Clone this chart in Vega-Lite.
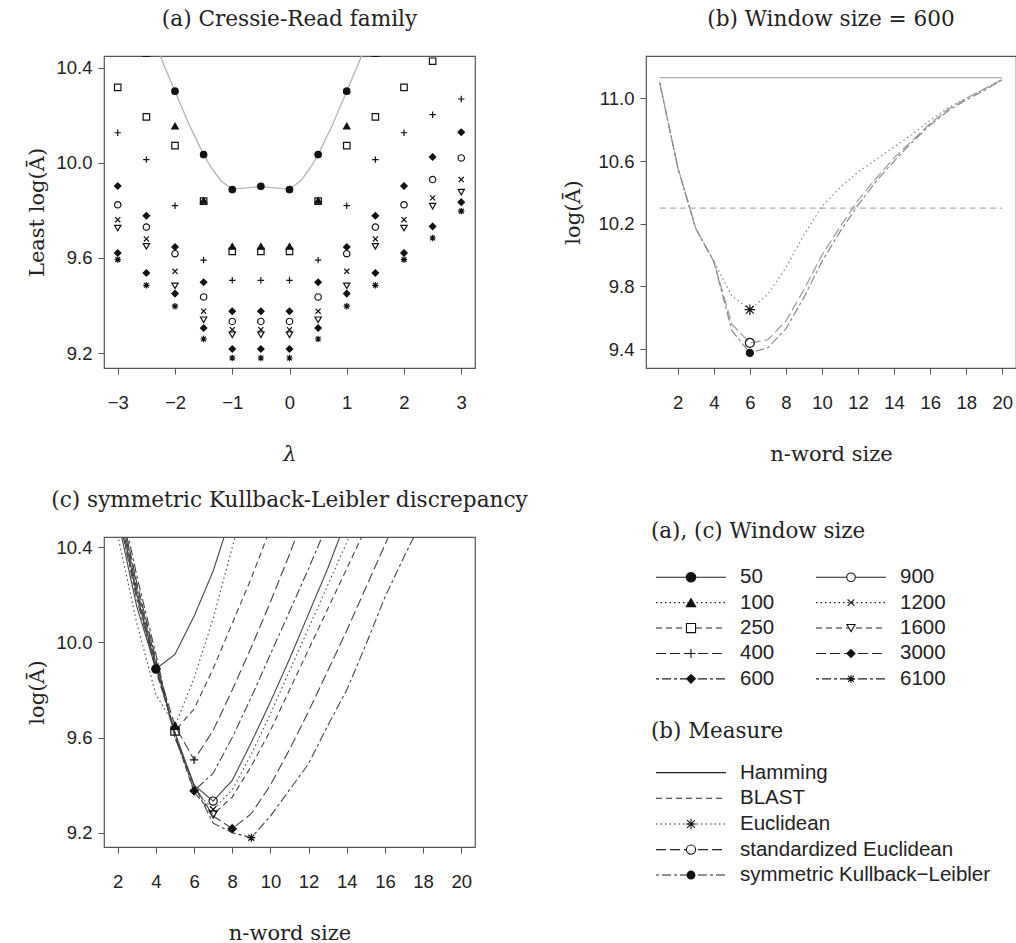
{
  "$schema": "https://vega.github.io/schema/vega-lite/v6.json",
  "padding": {"left": 26, "top": 8, "right": 0, "bottom": 0},
  "background": "white",
  "config": {
    "view": {"stroke": "#555", "strokeWidth": 1.2},
    "axis": {"domain": false, "grid": false, "ticks": true, "tickColor": "#555", "tickSize": 6, "tickWidth": 1, "labelFont": "Liberation Sans", "labelFontSize": 18.5, "labelColor": "#222", "labelOverlap": false, "labelFlush": false, "titleFont": "DejaVu Serif", "titleFontSize": 21, "titleFontWeight": "normal", "titleColor": "#222"},
    "axisY": {"titlePadding": 8, "labelPadding": 6},
    "axisX": {"titlePadding": 32, "labelPadding": 19},
    "title": {"font": "DejaVu Serif", "fontSize": 21.6, "fontWeight": "normal", "color": "#222", "anchor": "middle", "frame": "group", "baseline": "alphabetic", "offset": 25},
    "legend": {"disable": true}
  },
  "datasets": {
    "cr": [
      {"lambda":-2,"window":"50","v":10.302},{"lambda":-1.5,"window":"50","v":10.035},{"lambda":-1,"window":"50","v":9.888},{"lambda":-0.5,"window":"50","v":9.902},{"lambda":0,"window":"50","v":9.888},{"lambda":0.5,"window":"50","v":10.035},{"lambda":1,"window":"50","v":10.302},
      {"lambda":-2.5,"window":"100","v":10.46},{"lambda":-2,"window":"100","v":10.155},{"lambda":-1.5,"window":"100","v":9.842},{"lambda":-1,"window":"100","v":9.649},{"lambda":-0.5,"window":"100","v":9.649},{"lambda":0,"window":"100","v":9.649},{"lambda":0.5,"window":"100","v":9.842},{"lambda":1,"window":"100","v":10.155},{"lambda":1.5,"window":"100","v":10.46},
      {"lambda":-3,"window":"250","v":10.318},{"lambda":-2.5,"window":"250","v":10.194},{"lambda":-2,"window":"250","v":10.073},{"lambda":-1.5,"window":"250","v":9.839},{"lambda":-1,"window":"250","v":9.628},{"lambda":-0.5,"window":"250","v":9.628},{"lambda":0,"window":"250","v":9.628},{"lambda":0.5,"window":"250","v":9.839},{"lambda":1,"window":"250","v":10.073},{"lambda":1.5,"window":"250","v":10.194},{"lambda":2,"window":"250","v":10.318},{"lambda":2.5,"window":"250","v":10.428},
      {"lambda":-3,"window":"400","v":10.127},{"lambda":-2.5,"window":"400","v":10.014},{"lambda":-2,"window":"400","v":9.82},{"lambda":-1.5,"window":"400","v":9.591},{"lambda":-1,"window":"400","v":9.506},{"lambda":-0.5,"window":"400","v":9.506},{"lambda":0,"window":"400","v":9.506},{"lambda":0.5,"window":"400","v":9.591},{"lambda":1,"window":"400","v":9.82},{"lambda":1.5,"window":"400","v":10.014},{"lambda":2,"window":"400","v":10.127},{"lambda":2.5,"window":"400","v":10.203},{"lambda":3,"window":"400","v":10.269},
      {"lambda":-3,"window":"600","v":9.903},{"lambda":-2.5,"window":"600","v":9.778},{"lambda":-2,"window":"600","v":9.646},{"lambda":-1.5,"window":"600","v":9.498},{"lambda":-1,"window":"600","v":9.376},{"lambda":-0.5,"window":"600","v":9.376},{"lambda":0,"window":"600","v":9.376},{"lambda":0.5,"window":"600","v":9.498},{"lambda":1,"window":"600","v":9.646},{"lambda":1.5,"window":"600","v":9.778},{"lambda":2,"window":"600","v":9.903},{"lambda":2.5,"window":"600","v":10.025},{"lambda":3,"window":"600","v":10.129},
      {"lambda":-3,"window":"900","v":9.824},{"lambda":-2.5,"window":"900","v":9.73},{"lambda":-2,"window":"900","v":9.618},{"lambda":-1.5,"window":"900","v":9.436},{"lambda":-1,"window":"900","v":9.333},{"lambda":-0.5,"window":"900","v":9.333},{"lambda":0,"window":"900","v":9.333},{"lambda":0.5,"window":"900","v":9.436},{"lambda":1,"window":"900","v":9.618},{"lambda":1.5,"window":"900","v":9.73},{"lambda":2,"window":"900","v":9.824},{"lambda":2.5,"window":"900","v":9.93},{"lambda":3,"window":"900","v":10.021},
      {"lambda":-3,"window":"1200","v":9.761},{"lambda":-2.5,"window":"1200","v":9.68},{"lambda":-2,"window":"1200","v":9.544},{"lambda":-1.5,"window":"1200","v":9.376},{"lambda":-1,"window":"1200","v":9.298},{"lambda":-0.5,"window":"1200","v":9.298},{"lambda":0,"window":"1200","v":9.298},{"lambda":0.5,"window":"1200","v":9.376},{"lambda":1,"window":"1200","v":9.544},{"lambda":1.5,"window":"1200","v":9.68},{"lambda":2,"window":"1200","v":9.761},{"lambda":2.5,"window":"1200","v":9.853},{"lambda":3,"window":"1200","v":9.93},
      {"lambda":-3,"window":"1600","v":9.726},{"lambda":-2.5,"window":"1600","v":9.649},{"lambda":-2,"window":"1600","v":9.483},{"lambda":-1.5,"window":"1600","v":9.34},{"lambda":-1,"window":"1600","v":9.277},{"lambda":-0.5,"window":"1600","v":9.277},{"lambda":0,"window":"1600","v":9.277},{"lambda":0.5,"window":"1600","v":9.34},{"lambda":1,"window":"1600","v":9.483},{"lambda":1.5,"window":"1600","v":9.649},{"lambda":2,"window":"1600","v":9.726},{"lambda":2.5,"window":"1600","v":9.818},{"lambda":3,"window":"1600","v":9.877},
      {"lambda":-3,"window":"3000","v":9.621},{"lambda":-2.5,"window":"3000","v":9.537},{"lambda":-2,"window":"3000","v":9.45},{"lambda":-1.5,"window":"3000","v":9.305},{"lambda":-1,"window":"3000","v":9.217},{"lambda":-0.5,"window":"3000","v":9.217},{"lambda":0,"window":"3000","v":9.217},{"lambda":0.5,"window":"3000","v":9.305},{"lambda":1,"window":"3000","v":9.45},{"lambda":1.5,"window":"3000","v":9.537},{"lambda":2,"window":"3000","v":9.621},{"lambda":2.5,"window":"3000","v":9.733},{"lambda":3,"window":"3000","v":9.835},
      {"lambda":-3,"window":"6100","v":9.593},{"lambda":-2.5,"window":"6100","v":9.485},{"lambda":-2,"window":"6100","v":9.397},{"lambda":-1.5,"window":"6100","v":9.259},{"lambda":-1,"window":"6100","v":9.179},{"lambda":-0.5,"window":"6100","v":9.179},{"lambda":0,"window":"6100","v":9.179},{"lambda":0.5,"window":"6100","v":9.259},{"lambda":1,"window":"6100","v":9.397},{"lambda":1.5,"window":"6100","v":9.485},{"lambda":2,"window":"6100","v":9.593},{"lambda":2.5,"window":"6100","v":9.684},{"lambda":3,"window":"6100","v":9.797}
    ],
    "crLine": [
      {"lambda":-2.5,"v":10.6},{"lambda":-2.26,"v":10.45},{"lambda":-2,"v":10.302},{"lambda":-1.75,"v":10.16},{"lambda":-1.5,"v":10.035},{"lambda":-1.38,"v":9.985},{"lambda":-1.2,"v":9.925},{"lambda":-1,"v":9.89},{"lambda":-0.5,"v":9.9},{"lambda":0,"v":9.89},{"lambda":0.2,"v":9.925},{"lambda":0.38,"v":9.985},{"lambda":0.5,"v":10.035},{"lambda":0.75,"v":10.16},{"lambda":1,"v":10.302},{"lambda":1.26,"v":10.45},{"lambda":1.5,"v":10.6}
    ],
    "bm": [
      {"n":1,"measure":"Hamming","v":11.132},{"n":2,"measure":"Hamming","v":11.132},{"n":3,"measure":"Hamming","v":11.132},{"n":4,"measure":"Hamming","v":11.132},{"n":5,"measure":"Hamming","v":11.132},{"n":6,"measure":"Hamming","v":11.132},{"n":7,"measure":"Hamming","v":11.132},{"n":8,"measure":"Hamming","v":11.132},{"n":9,"measure":"Hamming","v":11.132},{"n":10,"measure":"Hamming","v":11.132},{"n":11,"measure":"Hamming","v":11.132},{"n":12,"measure":"Hamming","v":11.132},{"n":13,"measure":"Hamming","v":11.132},{"n":14,"measure":"Hamming","v":11.132},{"n":15,"measure":"Hamming","v":11.132},{"n":16,"measure":"Hamming","v":11.132},{"n":17,"measure":"Hamming","v":11.132},{"n":18,"measure":"Hamming","v":11.132},{"n":19,"measure":"Hamming","v":11.132},{"n":20,"measure":"Hamming","v":11.132},
      {"n":1,"measure":"BLAST","v":10.3},{"n":2,"measure":"BLAST","v":10.3},{"n":3,"measure":"BLAST","v":10.3},{"n":4,"measure":"BLAST","v":10.3},{"n":5,"measure":"BLAST","v":10.3},{"n":6,"measure":"BLAST","v":10.3},{"n":7,"measure":"BLAST","v":10.3},{"n":8,"measure":"BLAST","v":10.3},{"n":9,"measure":"BLAST","v":10.3},{"n":10,"measure":"BLAST","v":10.3},{"n":11,"measure":"BLAST","v":10.3},{"n":12,"measure":"BLAST","v":10.3},{"n":13,"measure":"BLAST","v":10.3},{"n":14,"measure":"BLAST","v":10.3},{"n":15,"measure":"BLAST","v":10.3},{"n":16,"measure":"BLAST","v":10.3},{"n":17,"measure":"BLAST","v":10.3},{"n":18,"measure":"BLAST","v":10.3},{"n":19,"measure":"BLAST","v":10.3},{"n":20,"measure":"BLAST","v":10.3},
      {"n":1,"measure":"Euclidean","v":11.1},{"n":2,"measure":"Euclidean","v":10.56},{"n":3,"measure":"Euclidean","v":10.17},{"n":4,"measure":"Euclidean","v":9.96},{"n":5,"measure":"Euclidean","v":9.74},{"n":6,"measure":"Euclidean","v":9.652},{"n":7,"measure":"Euclidean","v":9.75},{"n":8,"measure":"Euclidean","v":9.92},{"n":9,"measure":"Euclidean","v":10.13},{"n":10,"measure":"Euclidean","v":10.31},{"n":11,"measure":"Euclidean","v":10.43},{"n":12,"measure":"Euclidean","v":10.53},{"n":13,"measure":"Euclidean","v":10.61},{"n":14,"measure":"Euclidean","v":10.69},{"n":15,"measure":"Euclidean","v":10.77},{"n":16,"measure":"Euclidean","v":10.86},{"n":17,"measure":"Euclidean","v":10.94},{"n":18,"measure":"Euclidean","v":11.0},{"n":19,"measure":"Euclidean","v":11.06},{"n":20,"measure":"Euclidean","v":11.12},
      {"n":1,"measure":"standardized Euclidean","v":11.1},{"n":2,"measure":"standardized Euclidean","v":10.56},{"n":3,"measure":"standardized Euclidean","v":10.17},{"n":4,"measure":"standardized Euclidean","v":9.96},{"n":5,"measure":"standardized Euclidean","v":9.56},{"n":6,"measure":"standardized Euclidean","v":9.44},{"n":7,"measure":"standardized Euclidean","v":9.46},{"n":8,"measure":"standardized Euclidean","v":9.58},{"n":9,"measure":"standardized Euclidean","v":9.78},{"n":10,"measure":"standardized Euclidean","v":10.0},{"n":11,"measure":"standardized Euclidean","v":10.18},{"n":12,"measure":"standardized Euclidean","v":10.35},{"n":13,"measure":"standardized Euclidean","v":10.49},{"n":14,"measure":"standardized Euclidean","v":10.62},{"n":15,"measure":"standardized Euclidean","v":10.73},{"n":16,"measure":"standardized Euclidean","v":10.84},{"n":17,"measure":"standardized Euclidean","v":10.93},{"n":18,"measure":"standardized Euclidean","v":11.0},{"n":19,"measure":"standardized Euclidean","v":11.06},{"n":20,"measure":"standardized Euclidean","v":11.12},
      {"n":1,"measure":"symmetric Kullback−Leibler","v":11.1},{"n":2,"measure":"symmetric Kullback−Leibler","v":10.56},{"n":3,"measure":"symmetric Kullback−Leibler","v":10.17},{"n":4,"measure":"symmetric Kullback−Leibler","v":9.96},{"n":5,"measure":"symmetric Kullback−Leibler","v":9.52},{"n":6,"measure":"symmetric Kullback−Leibler","v":9.376},{"n":7,"measure":"symmetric Kullback−Leibler","v":9.41},{"n":8,"measure":"symmetric Kullback−Leibler","v":9.53},{"n":9,"measure":"symmetric Kullback−Leibler","v":9.73},{"n":10,"measure":"symmetric Kullback−Leibler","v":9.96},{"n":11,"measure":"symmetric Kullback−Leibler","v":10.15},{"n":12,"measure":"symmetric Kullback−Leibler","v":10.32},{"n":13,"measure":"symmetric Kullback−Leibler","v":10.47},{"n":14,"measure":"symmetric Kullback−Leibler","v":10.6},{"n":15,"measure":"symmetric Kullback−Leibler","v":10.72},{"n":16,"measure":"symmetric Kullback−Leibler","v":10.83},{"n":17,"measure":"symmetric Kullback−Leibler","v":10.92},{"n":18,"measure":"symmetric Kullback−Leibler","v":10.99},{"n":19,"measure":"symmetric Kullback−Leibler","v":11.05},{"n":20,"measure":"symmetric Kullback−Leibler","v":11.12}
    ],
    "bpts": [
      {"n":6,"measure":"Euclidean","v":9.652},
      {"n":6,"measure":"standardized Euclidean","v":9.44},
      {"n":6,"measure":"symmetric Kullback−Leibler","v":9.376}
    ],
    "skl": [
      {"n":2,"window":"50","v":10.52},{"n":3,"window":"50","v":10.15},{"n":4,"window":"50","v":9.888},{"n":5,"window":"50","v":9.95},{"n":6,"window":"50","v":10.11},{"n":7,"window":"50","v":10.3},{"n":8,"window":"50","v":10.55},
      {"n":2,"window":"100","v":10.45},{"n":3,"window":"100","v":10.08},{"n":4,"window":"100","v":9.78},{"n":5,"window":"100","v":9.649},{"n":6,"window":"100","v":9.85},{"n":7,"window":"100","v":10.1},{"n":8,"window":"100","v":10.4},{"n":9,"window":"100","v":10.7},
      {"n":2,"window":"250","v":10.55},{"n":3,"window":"250","v":10.2},{"n":4,"window":"250","v":9.88},{"n":5,"window":"250","v":9.628},{"n":6,"window":"250","v":9.72},{"n":7,"window":"250","v":9.89},{"n":8,"window":"250","v":10.08},{"n":9,"window":"250","v":10.27},{"n":10,"window":"250","v":10.48},
      {"n":2,"window":"400","v":10.6},{"n":3,"window":"400","v":10.22},{"n":4,"window":"400","v":9.91},{"n":5,"window":"400","v":9.65},{"n":6,"window":"400","v":9.506},{"n":7,"window":"400","v":9.63},{"n":8,"window":"400","v":9.8},{"n":9,"window":"400","v":9.98},{"n":10,"window":"400","v":10.17},{"n":11,"window":"400","v":10.37},{"n":12,"window":"400","v":10.58},
      {"n":2,"window":"600","v":10.55},{"n":3,"window":"600","v":10.18},{"n":4,"window":"600","v":9.89},{"n":5,"window":"600","v":9.62},{"n":6,"window":"600","v":9.376},{"n":7,"window":"600","v":9.45},{"n":8,"window":"600","v":9.6},{"n":9,"window":"600","v":9.77},{"n":10,"window":"600","v":9.95},{"n":11,"window":"600","v":10.13},{"n":12,"window":"600","v":10.31},{"n":13,"window":"600","v":10.5},
      {"n":2,"window":"900","v":10.58},{"n":3,"window":"900","v":10.2},{"n":4,"window":"900","v":9.9},{"n":5,"window":"900","v":9.62},{"n":6,"window":"900","v":9.4},{"n":7,"window":"900","v":9.333},{"n":8,"window":"900","v":9.42},{"n":9,"window":"900","v":9.58},{"n":10,"window":"900","v":9.75},{"n":11,"window":"900","v":9.93},{"n":12,"window":"900","v":10.12},{"n":13,"window":"900","v":10.31},{"n":14,"window":"900","v":10.52},
      {"n":2,"window":"1200","v":10.6},{"n":3,"window":"1200","v":10.22},{"n":4,"window":"1200","v":9.91},{"n":5,"window":"1200","v":9.6},{"n":6,"window":"1200","v":9.38},{"n":7,"window":"1200","v":9.298},{"n":8,"window":"1200","v":9.38},{"n":9,"window":"1200","v":9.53},{"n":10,"window":"1200","v":9.7},{"n":11,"window":"1200","v":9.88},{"n":12,"window":"1200","v":10.06},{"n":13,"window":"1200","v":10.24},{"n":14,"window":"1200","v":10.42},{"n":15,"window":"1200","v":10.62},
      {"n":2,"window":"1600","v":10.62},{"n":3,"window":"1600","v":10.24},{"n":4,"window":"1600","v":9.92},{"n":5,"window":"1600","v":9.61},{"n":6,"window":"1600","v":9.37},{"n":7,"window":"1600","v":9.277},{"n":8,"window":"1600","v":9.35},{"n":9,"window":"1600","v":9.48},{"n":10,"window":"1600","v":9.63},{"n":11,"window":"1600","v":9.8},{"n":12,"window":"1600","v":9.97},{"n":13,"window":"1600","v":10.14},{"n":14,"window":"1600","v":10.31},{"n":15,"window":"1600","v":10.48},
      {"n":2,"window":"3000","v":10.62},{"n":3,"window":"3000","v":10.25},{"n":4,"window":"3000","v":9.93},{"n":5,"window":"3000","v":9.6},{"n":6,"window":"3000","v":9.4},{"n":7,"window":"3000","v":9.27},{"n":8,"window":"3000","v":9.217},{"n":9,"window":"3000","v":9.28},{"n":10,"window":"3000","v":9.4},{"n":11,"window":"3000","v":9.55},{"n":12,"window":"3000","v":9.71},{"n":13,"window":"3000","v":9.88},{"n":14,"window":"3000","v":10.05},{"n":15,"window":"3000","v":10.23},{"n":16,"window":"3000","v":10.41},{"n":17,"window":"3000","v":10.6},
      {"n":2,"window":"6100","v":10.65},{"n":3,"window":"6100","v":10.28},{"n":4,"window":"6100","v":9.95},{"n":5,"window":"6100","v":9.6},{"n":6,"window":"6100","v":9.4},{"n":7,"window":"6100","v":9.24},{"n":8,"window":"6100","v":9.2},{"n":9,"window":"6100","v":9.179},{"n":10,"window":"6100","v":9.27},{"n":11,"window":"6100","v":9.38},{"n":12,"window":"6100","v":9.49},{"n":13,"window":"6100","v":9.65},{"n":14,"window":"6100","v":9.8},{"n":15,"window":"6100","v":9.99},{"n":16,"window":"6100","v":10.19},{"n":17,"window":"6100","v":10.36},{"n":18,"window":"6100","v":10.52}
    ],
    "sklmin": [
      {"n":4,"window":"50","v":9.888},{"n":5,"window":"100","v":9.649},{"n":5,"window":"250","v":9.628},{"n":6,"window":"400","v":9.506},{"n":6,"window":"600","v":9.376},{"n":7,"window":"900","v":9.333},{"n":7,"window":"1200","v":9.298},{"n":7,"window":"1600","v":9.277},{"n":8,"window":"3000","v":9.217},{"n":9,"window":"6100","v":9.179}
    ],
    "legT": [
      {"t":"(a), (c) Window size","col":0,"slot":0},
      {"t":"(b) Measure","col":0,"slot":7.87}
    ],
    "legW": [
      {"window":"50","col":0,"slot":1.78},{"window":"100","col":0,"slot":2.78},{"window":"250","col":0,"slot":3.78},{"window":"400","col":0,"slot":4.78},{"window":"600","col":0,"slot":5.78},
      {"window":"900","col":1,"slot":1.78},{"window":"1200","col":1,"slot":2.78},{"window":"1600","col":1,"slot":3.78},{"window":"3000","col":1,"slot":4.78},{"window":"6100","col":1,"slot":5.78}
    ],
    "legM": [
      {"measure":"Hamming","col":0,"slot":9.47},{"measure":"BLAST","col":0,"slot":10.48},{"measure":"Euclidean","col":0,"slot":11.49},{"measure":"standardized Euclidean","col":0,"slot":12.5},{"measure":"symmetric Kullback−Leibler","col":0,"slot":13.5}
    ],
    "legMpts": [
      {"measure":"Euclidean","col":0,"slot":11.49},{"measure":"standardized Euclidean","col":0,"slot":12.5},{"measure":"symmetric Kullback−Leibler","col":0,"slot":13.5}
    ]
  },
  "spacing": 23,
  "resolve": {"scale": {"shape": "independent", "fill": "independent", "size": "independent", "strokeDash": "independent", "color": "independent"}},
  "vconcat": [
    {
      "spacing": 86,
      "resolve": {"scale": {"shape": "independent", "fill": "independent", "size": "independent", "strokeDash": "independent", "color": "independent"}},
      "hconcat": [
        {
          "title": {"text": "(a) Cressie-Read family"},
          "width": 371, "height": 312,
          "encoding": {
            "x": {"field": "lambda", "type": "quantitative", "scale": {"domain": [-3.24, 3.24], "nice": false, "zero": false}, "axis": {"title": "λ", "titleFontStyle": "italic", "values": [-3,-2,-1,0,1,2,3], "format": "d"}},
            "y": {"field": "v", "type": "quantitative", "scale": {"domain": [9.137, 10.45], "nice": false, "zero": false}, "axis": {"title": "Least log(Ā)", "values": [9.2,9.6,10.0,10.4], "format": ".1f"}}
          },
          "layer": [
            {"data": {"name": "crLine"}, "mark": {"type": "line", "color": "#b3b3b3", "strokeWidth": 1.3, "clip": true}, "encoding": {}},
            {"data": {"name": "cr"}, "mark": {"type": "point", "opacity": 1, "stroke": "#111", "strokeWidth": 1.2, "clip": true},
             "encoding": {
               "shape": {"field": "window", "type": "nominal", "scale": {"domain": ["50","100","250","400","600","900","1200","1600","3000","6100"], "range": ["circle","triangle-up","square","M-1,0H1M0,-1V1","diamond","circle","M-0.8,-0.8L0.8,0.8M-0.8,0.8L0.8,-0.8","triangle-down","diamond","M-1,0H1M0,-1V1M-0.75,-0.75L0.75,0.75M-0.75,0.75L0.75,-0.75"]}},
               "fill": {"field": "window", "type": "nominal", "scale": {"domain": ["50","100","250","400","600","900","1200","1600","3000","6100"], "range": ["#111","#111","transparent","transparent","#111","transparent","transparent","transparent","#111","transparent"]}},
               "size": {"field": "window", "type": "nominal", "scale": {"domain": ["50","100","250","400","600","900","1200","1600","3000","6100"], "range": [42,40,36,75,40,36,90,36,40,70]}}
             }}
          ]
        },
        {
          "title": {"text": "(b) Window size = 600"},
          "width": 370, "height": 312,
          "encoding": {
            "x": {"field": "n", "type": "quantitative", "scale": {"domain": [0.24, 20.76], "nice": false, "zero": false}, "axis": {"title": "n-word size", "values": [2,4,6,8,10,12,14,16,18,20]}},
            "y": {"field": "v", "type": "quantitative", "scale": {"domain": [9.28, 11.27], "nice": false, "zero": false}, "axis": {"title": "log(Ā)", "titlePadding": 14, "values": [9.4,9.8,10.2,10.6,11.0], "format": ".1f"}}
          },
          "layer": [
            {"data": {"name": "bm"}, "mark": {"type": "line", "strokeWidth": 1.2, "clip": true},
             "encoding": {
               "strokeDash": {"field": "measure", "type": "nominal", "scale": {"domain": ["Hamming","BLAST","Euclidean","standardized Euclidean","symmetric Kullback−Leibler"], "range": [[1,0],[6,4],[1.5,3],[10,4],[3,3,9,3]]}},
               "color": {"field": "measure", "type": "nominal", "scale": {"domain": ["Hamming","BLAST","Euclidean","standardized Euclidean","symmetric Kullback−Leibler"], "range": ["#b0b0b0","#b0b0b0","#888888","#999999","#888888"]}}
             }},
            {"data": {"name": "bpts"}, "mark": {"type": "point", "opacity": 1, "stroke": "#111", "strokeWidth": 1.2, "clip": true},
             "encoding": {
               "shape": {"field": "measure", "type": "nominal", "scale": {"domain": ["Euclidean","standardized Euclidean","symmetric Kullback−Leibler"], "range": ["M-1,0H1M0,-1V1M-0.75,-0.75L0.75,0.75M-0.75,0.75L0.75,-0.75","circle","circle"]}},
               "fill": {"field": "measure", "type": "nominal", "scale": {"domain": ["Euclidean","standardized Euclidean","symmetric Kullback−Leibler"], "range": ["transparent","transparent","#111"]}},
               "size": {"field": "measure", "type": "nominal", "scale": {"domain": ["Euclidean","standardized Euclidean","symmetric Kullback−Leibler"], "range": [110,50,80]}}
             }}
          ]
        }
      ]
    },
    {
      "spacing": 122,
      "resolve": {"scale": {"shape": "independent", "fill": "independent", "size": "independent", "strokeDash": "independent", "color": "independent"}},
      "hconcat": [
        {
          "title": {"text": "(c) symmetric Kullback-Leibler discrepancy"},
          "width": 371, "height": 310,
          "encoding": {
            "x": {"field": "n", "type": "quantitative", "scale": {"domain": [1.28, 20.72], "nice": false, "zero": false}, "axis": {"title": "n-word size", "values": [2,4,6,8,10,12,14,16,18,20]}},
            "y": {"field": "v", "type": "quantitative", "scale": {"domain": [9.14, 10.443], "nice": false, "zero": false}, "axis": {"title": "log(Ā)", "values": [9.2,9.6,10.0,10.4], "format": ".1f"}}
          },
          "layer": [
            {"data": {"name": "skl"}, "mark": {"type": "line", "color": "#444", "strokeWidth": 1.1, "clip": true},
             "encoding": {
               "strokeDash": {"field": "window", "type": "nominal", "scale": {"domain": ["50","100","250","400","600","900","1200","1600","3000","6100"], "range": [[1,0],[1.5,3],[6,4],[10,4],[3,3,9,3],[1,0],[1.5,3],[6,4],[10,4],[3,3,9,3]]}}
             }},
            {"data": {"name": "sklmin"}, "mark": {"type": "point", "opacity": 1, "stroke": "#111", "strokeWidth": 1.2, "clip": true},
             "encoding": {
               "shape": {"field": "window", "type": "nominal", "scale": {"domain": ["50","100","250","400","600","900","1200","1600","3000","6100"], "range": ["circle","triangle-up","square","M-1,0H1M0,-1V1","diamond","circle","M-0.8,-0.8L0.8,0.8M-0.8,0.8L0.8,-0.8","triangle-down","diamond","M-1,0H1M0,-1V1M-0.75,-0.75L0.75,0.75M-0.75,0.75L0.75,-0.75"]}},
               "fill": {"field": "window", "type": "nominal", "scale": {"domain": ["50","100","250","400","600","900","1200","1600","3000","6100"], "range": ["#111","#111","transparent","transparent","#111","transparent","transparent","transparent","#111","transparent"]}},
               "size": {"field": "window", "type": "nominal", "scale": {"domain": ["50","100","250","400","600","900","1200","1600","3000","6100"], "range": [70,65,60,120,75,64,140,60,75,140]}}
             }}
          ]
        },
        {
          "width": 160, "height": 310,
          "view": {"stroke": null},
          "encoding": {
            "x": {"field": "col", "type": "quantitative", "scale": {"domain": [0, 1], "nice": false, "zero": false}, "axis": null},
            "y": {"field": "slot", "type": "quantitative", "scale": {"domain": [0.197, 12.397], "reverse": true, "nice": false, "zero": false}, "axis": null}
          },
          "layer": [
            {"data": {"name": "legT"}, "mark": {"type": "text", "align": "left", "baseline": "middle", "dx": -40, "font": "DejaVu Serif", "fontSize": 21.4, "color": "#222"}, "encoding": {"text": {"field": "t"}}},
            {"data": {"name": "legW"}, "mark": {"type": "rule", "xOffset": -35, "x2Offset": 35, "color": "#222", "strokeWidth": 1.1},
             "encoding": {"x2": {"field": "col"},
               "strokeDash": {"field": "window", "type": "nominal", "scale": {"domain": ["50","100","250","400","600","900","1200","1600","3000","6100"], "range": [[1,0],[1.5,3],[6,4],[10,4],[3,3,9,3],[1,0],[1.5,3],[6,4],[10,4],[3,3,9,3]]}}}},
            {"data": {"name": "legW"}, "mark": {"type": "point", "opacity": 1, "stroke": "#111", "strokeWidth": 1.1},
             "encoding": {
               "shape": {"field": "window", "type": "nominal", "scale": {"domain": ["50","100","250","400","600","900","1200","1600","3000","6100"], "range": ["circle","triangle-up","square","M-1,0H1M0,-1V1","diamond","circle","M-0.8,-0.8L0.8,0.8M-0.8,0.8L0.8,-0.8","triangle-down","diamond","M-1,0H1M0,-1V1M-0.75,-0.75L0.75,0.75M-0.75,0.75L0.75,-0.75"]}},
               "fill": {"field": "window", "type": "nominal", "scale": {"domain": ["50","100","250","400","600","900","1200","1600","3000","6100"], "range": ["#111","#111","white","white","#111","white","white","white","#111","white"]}},
               "size": {"field": "window", "type": "nominal", "scale": {"domain": ["50","100","250","400","600","900","1200","1600","3000","6100"], "range": [90,60,60,110,60,60,110,55,60,120]}}
             }},
            {"data": {"name": "legW"}, "mark": {"type": "text", "align": "left", "baseline": "middle", "dx": 49, "font": "Liberation Sans", "fontSize": 20.5, "color": "#222"}, "encoding": {"text": {"field": "window"}}},
            {"data": {"name": "legM"}, "mark": {"type": "rule", "xOffset": -35, "x2Offset": 35, "color": "#222", "strokeWidth": 1.1},
             "encoding": {"x2": {"field": "col"},
               "strokeDash": {"field": "measure", "type": "nominal", "scale": {"domain": ["Hamming","BLAST","Euclidean","standardized Euclidean","symmetric Kullback−Leibler"], "range": [[1,0],[6,4],[1.5,3],[10,4],[3,3,9,3]]}}}},
            {"data": {"name": "legMpts"}, "mark": {"type": "point", "opacity": 1, "stroke": "#111", "strokeWidth": 1.1},
             "encoding": {
               "shape": {"field": "measure", "type": "nominal", "scale": {"domain": ["Euclidean","standardized Euclidean","symmetric Kullback−Leibler"], "range": ["M-1,0H1M0,-1V1M-0.75,-0.75L0.75,0.75M-0.75,0.75L0.75,-0.75","circle","circle"]}},
               "fill": {"field": "measure", "type": "nominal", "scale": {"domain": ["Euclidean","standardized Euclidean","symmetric Kullback−Leibler"], "range": ["white","white","#111"]}},
               "size": {"field": "measure", "type": "nominal", "scale": {"domain": ["Euclidean","standardized Euclidean","symmetric Kullback−Leibler"], "range": [110,60,85]}}
             }},
            {"data": {"name": "legM"}, "mark": {"type": "text", "align": "left", "baseline": "middle", "dx": 49, "font": "Liberation Sans", "fontSize": 20.5, "color": "#222"}, "encoding": {"text": {"field": "measure"}}}
          ],
          "resolve": {"scale": {"shape": "independent", "fill": "independent", "strokeDash": "independent", "size": "independent"}}
        }
      ]
    }
  ]
}
